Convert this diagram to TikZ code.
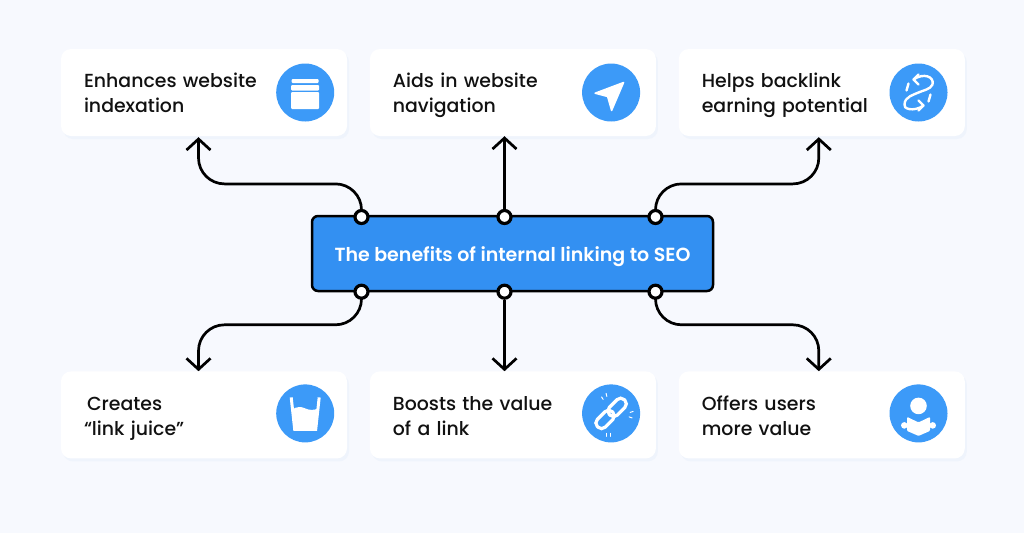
\documentclass[tikz,border=0pt]{standalone}
\usepackage{fontspec}
\setmainfont{Poppins}
\newfontfamily\poppinsMed{Poppins Medium}
\newfontfamily\poppinsSemi{Poppins SemiBold}
\usepackage{tikz}
\usetikzlibrary{arrows.meta, positioning, shadows}
\definecolor{fondoPagina}{HTML}{F7F9FE}
\definecolor{sombraCard}{HTML}{EFF4FC}
\definecolor{azulHub}{HTML}{3390F2}
\definecolor{azulIcono}{HTML}{3C9AF8}
\definecolor{tinta}{HTML}{111111}

\begin{document}
\begin{tikzpicture}[
        x=1pt, y=-1pt,
        card/.style={fill=white, rounded corners=10pt, text width=240pt, inner xsep=23pt, inner ysep=0pt,
            align=left, minimum height=87pt, text=tinta, font=\poppinsMed\fontsize{18.9}{25}\selectfont,
            execute at begin node=\rule{0pt}{23pt}, execute at end node=\strut,
            drop shadow={shadow xshift=2pt, shadow yshift=-3pt, fill=sombraCard, opacity=1}},
        hub/.style={draw=black, fill=azulHub, line width=2.5pt, rounded corners=6pt, minimum width=401pt,
            minimum height=75pt, outer sep=0pt, text=white, font=\poppinsSemi\fontsize{19}{24}\selectfont,
            execute at begin node=\rule{0pt}{21pt}},
        ico/.style={circle, fill=azulIcono, minimum size=58pt, inner sep=0pt},
        dot/.style={circle, draw=black, fill=white, line width=3.2pt, minimum size=13pt, inner sep=0pt},
        rel/.style={-{Straight Barb[length=11pt, width=24pt]}, black, line width=2.7pt, rounded corners=26pt},
        blanco/.style={fill=white, rounded corners=1pt},
        trazo/.style={draw=white, line width=2.4pt, line cap=round, line join=round}
    ]
        \useasboundingbox (0,0) rectangle (1024,533);
        \fill[fondoPagina] (0,0) rectangle (1024,533);

        % cards
        \node[card] (index) at (204,92.5) {Enhances website\\indexation};
        \node[card, right=22.5pt of index] (nav) {Aids in website\\navigation};
        \node[card, right=22.5pt of nav] (back) {Helps backlink\\earning potential};
        \node[card, below=235pt of index] (juice) {\hspace*{3pt}Creates\\“link juice”};
        \node[card, right=22.5pt of juice] (value) {Boosts the value\\of a link};
        \node[card, right=22.5pt of value] (users) {Offers users\\more value};

        \node[hub] (benefits) at (512.5,253.5) {The benefits of internal linking to SEO};

        % dots on the hub
        \node[dot] (dotTL) at ([xshift=-151pt, yshift=-1pt]benefits.north) {};
        \node[dot] (dotTM) at ([xshift=-8pt, yshift=-1pt]benefits.north) {};
        \node[dot] (dotTR) at ([xshift=143pt, yshift=-1pt]benefits.north) {};
        \node[dot] (dotBL) at ([xshift=-151pt, yshift=-0.7pt]benefits.south) {};
        \node[dot] (dotBM) at ([xshift=-8pt, yshift=-0.7pt]benefits.south) {};
        \node[dot] (dotBR) at ([xshift=143pt, yshift=-0.7pt]benefits.south) {};

        \coordinate (tipA) at ([xshift=-5.5pt, yshift=-1pt]index.south);
        \coordinate (tipB) at (dotTM |- index.south);
        \coordinate (tipC) at ([xshift=-3pt, yshift=-1pt]back.south);
        \coordinate (tipD) at ([xshift=-5.5pt]juice.north);
        \coordinate (tipE) at (dotBM |- juice.north);
        \coordinate (tipF) at ([xshift=-3pt]users.north);

        \draw[rel] (dotTL.north) -- ++(0,-25) -| (tipA);
        \draw[rel] (dotTM) -- (tipB);
        \draw[rel] (dotTR.north) -- ++(0,-25) -| (tipC);
        \draw[rel] (dotBL.south) -- ++(0,25) -| (tipD);
        \draw[rel] (dotBM) -- (tipE);
        \draw[rel] (dotBR.south) -- ++(0,25) -| (tipF);

        % icon discs
        \node[ico] (icoIndex) at ([xshift=-42pt]index.east) {};
        \node[ico] (icoNav) at ([xshift=-45pt]nav.east) {};
        \node[ico] (icoBack) at ([xshift=-46.5pt]back.east) {};
        \node[ico] (icoJuice) at ([xshift=-42pt, yshift=1.5pt]juice.east) {};
        \node[ico] (icoValue) at ([xshift=-45pt, yshift=1.5pt]value.east) {};
        \node[ico] (icoUsers) at ([xshift=-46.5pt, yshift=1.5pt]users.east) {};

        % stacked cards
        \begin{scope}[shift={(icoIndex)}]
            \fill[blanco] (-13.5,-13.5) rectangle (13.5,-9.5);
            \fill[blanco] (-14,-7.5) rectangle (14,-2);
            \fill[blanco] (-14,-0.5) rectangle (14,16.5);
        \end{scope}

        % navigation arrow
        \begin{scope}[shift={(icoNav)}]
            \fill[white, draw=white, line width=1.5pt, line join=round]
                (12.5,-10) -- (-16,0.7) -- (-3.5,4) -- (0.5,18) -- cycle;
        \end{scope}

        % sync
        \begin{scope}[shift={(icoBack)}]
            \draw[trazo] (-5,-13) .. controls (5,-20) and (16,-16) .. (14,-8) .. controls (12,-3) and (4,-2) .. (0,0)
                .. controls (-4,2) and (-14,4) .. (-14,12) .. controls (-16,16) and (-5,20) .. (5,13);
            \draw[trazo] (0,-18) -- (-5,-13) -- (0,-8);
            \draw[trazo] (0,18) -- (5,13) -- (0,8);
            \draw[trazo] (-10,-9) -- (-12,-2);
            \draw[trazo] (10,9) -- (12,2);
        \end{scope}

        % glass
        \begin{scope}[shift={(icoJuice)}]
            \draw[trazo, line width=3pt, line cap=butt, line join=miter] (-14,-16) -- (-10.5,16) -- (10.5,16) -- (14,-16);
            \fill[white] (-13,-4) .. controls (-8,-7) and (-4,-7) .. (0,-5)
                .. controls (4,-3) and (9,-3) .. (13,-5) -- (10.5,16) -- (-10.5,16) -- cycle;
        \end{scope}

        % link
        \begin{scope}[shift={(icoValue)}]
            \begin{scope}[rotate=45]
                \draw[draw=white, line width=3.2pt, rounded corners=5pt] (-19,-5.5) rectangle (2,5.5);
                \draw[draw=white, line width=3.2pt, rounded corners=5pt] (-2,-5.5) rectangle (19,5.5);
            \end{scope}
            \draw[trazo, line width=1pt] (-9.5,-16.5) -- (-8,-14);
            \draw[trazo, line width=1pt] (-5,-20) -- (-4.3,-17);
            \draw[trazo, line width=1pt] (19,-1) -- (22,-2);
            \draw[trazo, line width=1pt] (18,3.5) -- (21,4.5);
            \draw[trazo, line width=1pt] (-5,20) -- (-5,23);
            \draw[trazo, line width=1pt] (-1,20) -- (-1,23);
        \end{scope}

        % reader
        \begin{scope}[shift={(icoUsers)}]
            \fill[white] (0,-7.5) circle (8.3);
            \fill[white, rounded corners=1pt] (-11.5,3.5) -- (0,9) -- (11.5,3.5) -- (11.5,17.5) -- (0,22.5) -- (-11.5,17.5) -- cycle;
            \fill[white] (-14.2,12) circle (3.3);
            \fill[white] (14.2,12) circle (3.3);
        \end{scope}
    \end{tikzpicture}
\end{document}
